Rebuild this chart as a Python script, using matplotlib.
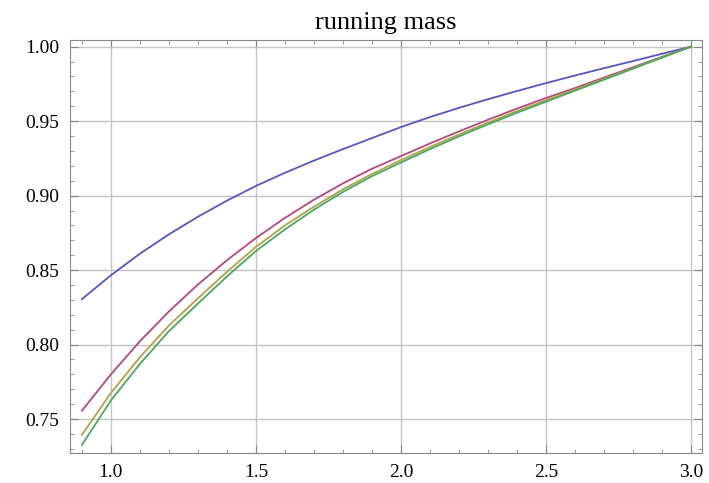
import matplotlib.pyplot as plt
from matplotlib.ticker import MultipleLocator

# scale values
mu = [0.9, 1.0, 1.1, 1.2, 1.3, 1.4, 1.5, 1.6, 1.7, 1.8, 1.9, 2.0,
      2.1, 2.2, 2.3, 2.4, 2.5, 2.6, 2.7, 2.8, 2.9, 3.0]

m_blue   = [0.8305, 0.8465, 0.8610, 0.8740, 0.8858, 0.8966, 0.9065, 0.9153, 0.9235, 0.9312, 0.9386,
            0.9460, 0.9527, 0.9589, 0.9647, 0.9702, 0.9755, 0.9806, 0.9855, 0.9903, 0.9952, 1.0]
m_purple = [0.7556, 0.7800, 0.8022, 0.8222, 0.8403, 0.8566, 0.8715, 0.8850, 0.8972, 0.9082, 0.9180,
            0.9265, 0.9350, 0.9431, 0.9509, 0.9584, 0.9655, 0.9722, 0.9792, 0.9862, 0.9931, 1.0]
m_orange = [0.7393, 0.7675, 0.7915, 0.8128, 0.8310, 0.8488, 0.8655, 0.8800, 0.8925, 0.9042, 0.9145,
            0.9238, 0.9326, 0.9410, 0.9490, 0.9567, 0.9640, 0.9712, 0.9784, 0.9856, 0.9928, 1.0]
m_green  = [0.7326, 0.7625, 0.7870, 0.8090, 0.8275, 0.8457, 0.8628, 0.8773, 0.8905, 0.9025, 0.9130,
            0.9222, 0.9312, 0.9397, 0.9478, 0.9556, 0.9630, 0.9704, 0.9778, 0.9852, 0.9926, 1.0]

colors = ['#5656c0', '#b4487f', '#b4a048', '#48a860']

plt.rcParams['font.family'] = ['Liberation Serif', 'DejaVu Serif']

fig = plt.figure(figsize=(7.09, 4.83), dpi=100)
ax = fig.add_axes([0.0987, 0.062, 0.8913, 0.855])

for ys, c in zip([m_blue, m_purple, m_orange, m_green], colors):
    ax.plot(mu, ys, color=c, lw=1.3)

ax.set_xlim(0.859, 3.038)
ax.set_ylim(0.7272, 1.0044)

ax.xaxis.set_major_locator(MultipleLocator(0.5))
ax.xaxis.set_minor_locator(MultipleLocator(0.1))
ax.yaxis.set_major_locator(MultipleLocator(0.05))
ax.yaxis.set_minor_locator(MultipleLocator(0.01))
ax.xaxis.set_major_formatter(lambda v, p: f'{v:.1f}')
ax.yaxis.set_major_formatter(lambda v, p: f'{v:.2f}')

ax.grid(True, which='major', color='#c4c4c4', lw=1.0)
ax.tick_params(which='both', direction='in', top=True, right=True, color='#888888')
ax.tick_params(which='major', length=6, labelsize=14, pad=8)
ax.tick_params(which='minor', length=3)
for s in ax.spines.values():
    s.set_color('#888888')

ax.set_title('running mass', fontsize=19, pad=8)

fig.savefig('out.png', dpi=100)
